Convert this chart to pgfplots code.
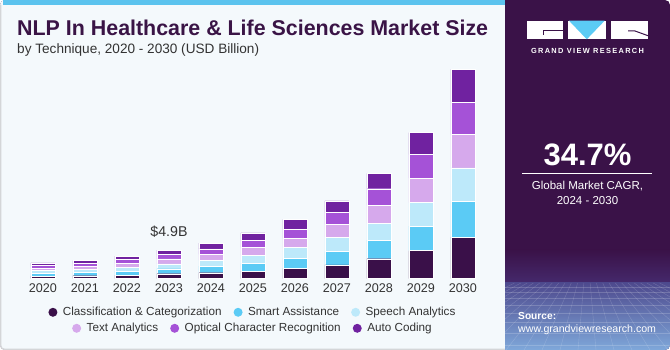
\documentclass[border=0pt]{standalone}
\usepackage{pgfplots}
\pgfplotsset{compat=1.18}
\usepackage{pgfplotstable}
\usepackage{fontspec}
\setmainfont{Liberation Sans}
\definecolor{cA}{HTML}{3A1049}
\definecolor{cB}{HTML}{5BCBF5}
\definecolor{cC}{HTML}{BDE9FA}
\definecolor{cD}{HTML}{D6A9EC}
\definecolor{cE}{HTML}{A552D7}
\definecolor{cF}{HTML}{7022A0}
\definecolor{panel}{HTML}{3A1248}
\definecolor{bgL}{HTML}{F4F9FC}
\definecolor{stripe}{HTML}{5BC3EE}
\definecolor{titlecol}{HTML}{3A1446}
\definecolor{txtgray}{HTML}{333333}
\definecolor{bordergray}{HTML}{D4D6D8}
\definecolor{horizcol}{HTML}{45296C}
\definecolor{gridtop}{HTML}{4E4A8E}
\definecolor{gridbot}{HTML}{7FA8DA}

\pgfplotstableread{
year cls smart speech text ocr auto
2020 0.46 0.46 0.46 0.44 0.44 0.44
2021 0.51 0.58 0.56 0.51 0.46 0.46
2022 0.63 0.68 0.63 0.63 0.68 0.61
2023 0.85 0.85 0.85 0.85 0.80 0.68
2024 1.02 1.14 1.02 0.97 0.96 0.97
2025 1.31 1.31 1.37 1.31 1.25 1.26
2026 1.77 1.71 1.81 1.60 1.59 1.66
2027 2.34 2.27 2.46 2.22 1.98 2.00
2028 3.41 3.19 2.85 3.07 2.83 2.63
2029 4.78 4.20 4.00 4.20 4.00 3.75
2030 7.10 6.10 5.70 5.70 5.50 5.60
}\datatable

\pgfplotsset{
  legaxis/.style={
    at={(1pt,71.3pt)}, anchor=south west, scale only axis,
    width=503.8pt, height=234.4pt,
    xmin=0, xmax=1, ymin=0, ymax=1, hide axis,
    legend style={anchor=center, draw=none, fill=none,
      font=\fontsize{11.7}{13}\selectfont, text=txtgray, legend columns=-1,
      /tikz/every odd column/.append style={column sep=3.5pt},
      /tikz/every even column/.append style={column sep=10pt}},
    legend image code/.code={\fill[##1] (0pt,0pt) circle (4.5pt);},
  }
}

\begin{document}
\begin{tikzpicture}[x=1pt,y=1pt]
\path[use as bounding box] (0,0) rectangle (670,350);
% backgrounds
\fill[panel, rounded corners=5pt] (0,0) rectangle (670,350);
\fill[bgL, rounded corners=5pt] (0,0) rectangle (515,350);
\fill[panel] (505,0) rectangle (520,350);
\fill[stripe] (3,345) rectangle (505,350);
\draw[bordergray, line width=1.3pt, rounded corners=4pt] (505,0.65) -- (0.65,0.65) -- (0.65,345);
% bottom decoration of right panel
\begin{scope}
\clip (505,0) rectangle (670,110);
\clip[rounded corners=5pt] (480,0) rectangle (670,130);
\shade[top color=panel, bottom color=horizcol] (505,67) rectangle (670,100);
\shade[top color=gridtop, bottom color=gridbot] (505,0) rectangle (670,67);
\foreach \y in {63,58,52,45,37,28,17,5}
  \draw[white, opacity=0.18, line width=0.4pt] (505,\y) -- (670,\y);
\foreach \x in {380,398,...,800}
  \draw[white, opacity=0.18, line width=0.4pt] ({587+(\x-587)*0.35},67) -- (\x,0);
\end{scope}
% logo
\fill[white] (527.3,310.7) rectangle (562.7,329.3);
\draw[panel, line width=1pt] (563,319) -- (543,319) -- (543,315);
\fill[white] (567.7,310.7) rectangle (606,329.3);
\fill[cB] (569,329.3) -- (604.7,329.3) -- (586.8,310.7) -- cycle;
\fill[white] (610.7,310.7) rectangle (647.7,329.3);
\draw[panel, line width=1pt] (628,319) -- (635,319) -- (648,314.3);
\node[anchor=base, text=white, font=\fontsize{7.4}{8}\selectfont\bfseries\addfontfeature{LetterSpace=18}] at (587.5,296.7) {GRAND VIEW RESEARCH};
% CAGR
\node[anchor=base, text=white, font=\fontsize{31}{34}\selectfont\bfseries] at (587.5,184.3) {34.7\%};
\draw[white, line width=0.8pt] (522,176.7) -- (652,176.7);
\node[anchor=base, text=white, font=\fontsize{11.5}{13}\selectfont] at (587.5,160) {Global Market CAGR,};
\node[anchor=base, text=white, font=\fontsize{11.5}{13}\selectfont] at (587.5,145.7) {2024 - 2030};
\node[anchor=base west, text=white, font=\fontsize{10.2}{12}\selectfont\bfseries, inner sep=0pt] at (518,30) {Source:};
\node[anchor=base west, text=white, font=\fontsize{10.6}{12}\selectfont, inner sep=0pt] at (518,17) {www.grandviewresearch.com};
% titles
\node[anchor=base west, inner sep=0pt, text=titlecol, font=\fontsize{21.4}{24}\selectfont\bfseries] at (17,314.3) {NLP In Healthcare \& Life Sciences Market Size};
\node[anchor=base west, inner sep=0pt, text=txtgray, font=\fontsize{13.6}{15}\selectfont] at (17,296.7) {by Technique, 2020 - 2030 (USD Billion)};

\begin{axis}[
  at={(1pt,71.3pt)}, anchor=south west, scale only axis,
  width=503.8pt, height=234.4pt,
  xmin=2019, xmax=2031, ymin=0, ymax=40,
  ybar stacked, bar width=24pt,
  axis line style={draw=none}, ytick=\empty,
  xtick={2020,2021,...,2030}, major tick length=0pt,
  xticklabel style={font=\fontsize{12.6}{14}\selectfont, text=txtgray, anchor=base, yshift=-13.8pt},
  /pgf/number format/assume math mode=true, /pgf/number format/1000 sep={},
  clip=false,
  every axis plot/.append style={draw=white, line width=0.4pt},
]
\addplot[fill=cA] table[x=year,y=cls]{\datatable};
\addplot[fill=cB] table[x=year,y=smart]{\datatable};
\addplot[fill=cC] table[x=year,y=speech]{\datatable};
\addplot[fill=cD] table[x=year,y=text]{\datatable};
\addplot[fill=cE] table[x=year,y=ocr]{\datatable};
\addplot[fill=cF] table[x=year,y=auto]{\datatable};
\node[anchor=base, yshift=14pt, text=txtgray, font=\fontsize{14.2}{16}\selectfont] at (axis cs:2023,4.88) {\$4.9B};
\end{axis}

\begin{axis}[legaxis, legend style={at={(0.5,-0.1433)}}]
\addlegendimage{fill=cA, draw=none}
\addlegendentry{Classification \& Categorization}
\addlegendimage{fill=cB, draw=none}
\addlegendentry{Smart Assistance}
\addlegendimage{fill=cC, draw=none}
\addlegendentry{Speech Analytics}
\end{axis}

\begin{axis}[legaxis, legend style={at={(0.5,-0.2116)}}]
\addlegendimage{fill=cD, draw=none}
\addlegendentry{Text Analytics}
\addlegendimage{fill=cE, draw=none}
\addlegendentry{Optical Character Recognition}
\addlegendimage{fill=cF, draw=none}
\addlegendentry{Auto Coding}
\end{axis}
\end{tikzpicture}
\end{document}
